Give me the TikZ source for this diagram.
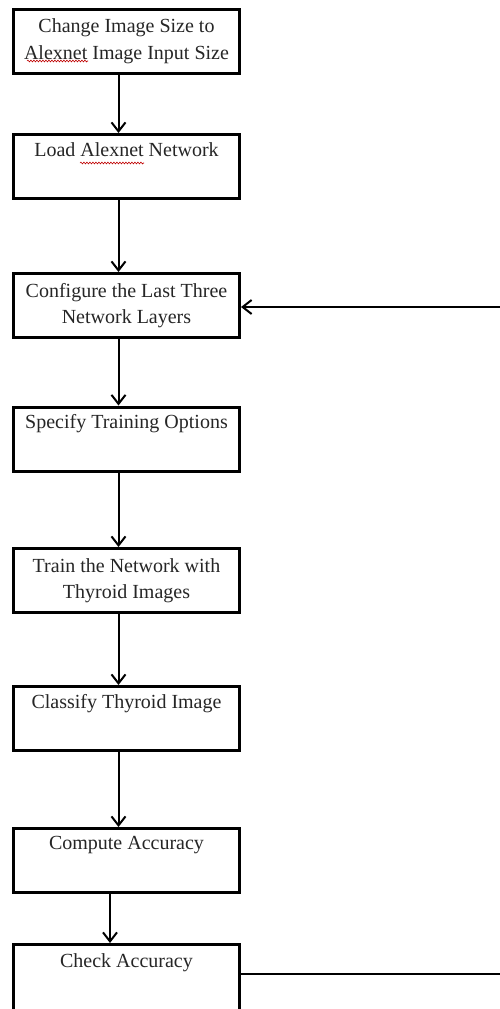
\documentclass[tikz,border=0pt]{standalone}
\usepackage{fontspec}
\setmainfont{Liberation Serif}
\usetikzlibrary{arrows.meta,decorations.pathmorphing}
\begin{document}
\begin{tikzpicture}[x=1pt,y=-1pt,
  box/.style={draw=black,line width=3pt,fill=white,minimum width=226pt,minimum height=64pt,
    inner sep=0pt,align=center,font=\fontsize{20}{26.5}\selectfont,text=black!85},
  arr/.style={line width=2pt,-{Straight Barb[length=9pt,width=14pt,line width=2pt]}},
  fb/.style={line width=2pt},
  squig/.style={draw=red!75!black,line width=0.6pt,decorate,decoration={snake,amplitude=0.9pt,segment length=3pt}}]
\useasboundingbox (0,0) rectangle (499,1009);
\node[box] (b1) at (126.5,41)    {Change Image Size to\\Alexnet Image Input Size};
\node[box] (b2) at (126.5,166.5) {Load Alexnet Network\\\strut};
\node[box] (b3) at (126.5,305.5) {Configure the Last Three\\Network Layers};
\node[box] (b4) at (126.5,439)   {Specify Training Options\\\strut};
\node[box] (b5) at (126.5,580.5) {Train the Network with\\Thyroid Images};
\node[box] (b6) at (126.5,718.5) {Classify Thyroid Image\\\strut};
\node[box] (b7) at (126.5,860.5) {Compute Accuracy\\\strut};
\node[box,minimum height=67pt] (b8) at (126.5,978) {Check Accuracy\\\strut};
% spell-check underlines
\draw[squig] (27,61) -- (88,61);
\draw[squig] (80,163) -- (144,163);
% flow arrows
\draw[arr] ([xshift=-8pt]b1.south) -- ([xshift=-8pt]b2.north);
\draw[arr] ([xshift=-8pt]b2.south) -- ([xshift=-8pt]b3.north);
\draw[arr] ([xshift=-8pt]b3.south) -- ([xshift=-8pt]b4.north);
\draw[arr] ([xshift=-8pt]b4.south) -- ([xshift=-8pt]b5.north);
\draw[arr] ([xshift=-8pt]b5.south) -- ([xshift=-8pt]b6.north);
\draw[arr] ([xshift=-8pt]b6.south) -- ([xshift=-8pt]b7.north);
\draw[arr] ([xshift=-16.5pt]b7.south) -- ([xshift=-16.5pt]b8.north);
% feedback loop (its vertical part lies beyond the right edge)
\coordinate (r1) at (502,307);
\coordinate (r2) at (502,974);
\draw[fb] (b8.east |- r2) -- (r2);
\draw[arr] (r1) -- (b3.east |- r1);
\end{tikzpicture}
\end{document}
